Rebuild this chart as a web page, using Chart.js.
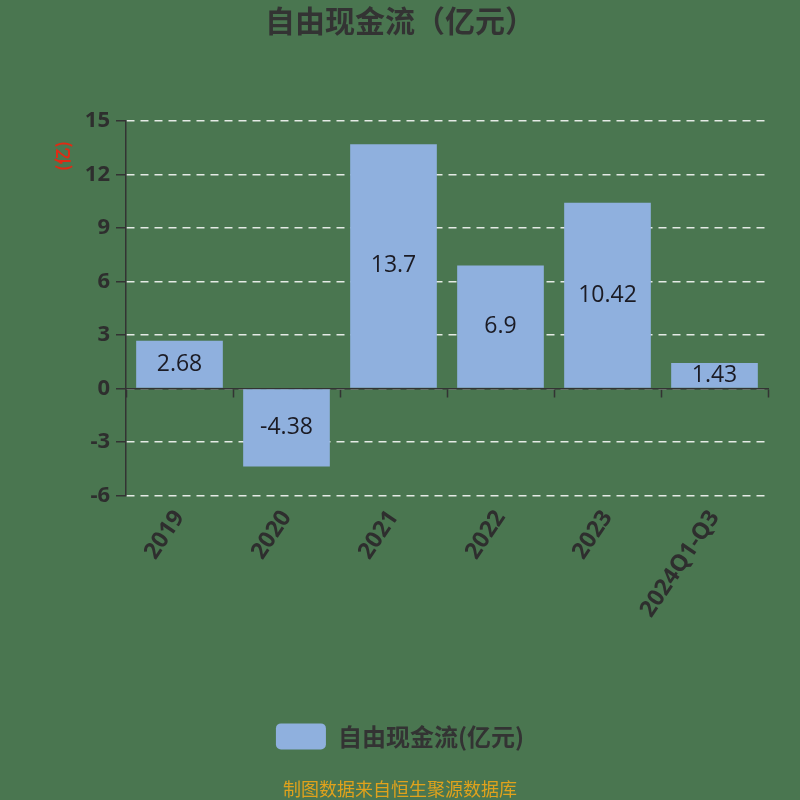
<!DOCTYPE html>
<html>
<head>
<meta charset="utf-8">
<script src="https://cdn.jsdelivr.net/npm/chart.js@4"></script>
<style>
  html, body { margin: 0; padding: 0; background: #4a7650; }
  #wrap { width: 800px; height: 800px; }
</style>
</head>
<body>
<div id="wrap"><canvas id="fcf" width="800" height="800"></canvas></div>
<script>
// data
const years = ['2019', '2020', '2021', '2022', '2023', '2024Q1-Q3'];
const freeCashFlow = [2.68, -4.38, 13.7, 6.9, 10.42, 1.43];
const yTicks = [-6, -3, 0, 3, 6, 9, 12, 15];

const cjk = '"Noto Sans CJK SC", "Noto Sans", sans-serif';

// green page background
const bgPlugin = {
    id: 'bg',
    beforeDraw(chart) {
        const ctx = chart.ctx;
        ctx.save();
        ctx.fillStyle = '#4a7650';
        ctx.fillRect(0, 0, chart.width, chart.height);
        ctx.restore();
    }
};

// value printed in the middle of each bar, plus the red unit label
const labelPlugin = {
    id: 'barLabels',
    afterDatasetsDraw(chart) {
        const ctx = chart.ctx;
        const meta = chart.getDatasetMeta(0);
        ctx.save();
        ctx.font = '23px "Open Sans", "Noto Sans", sans-serif';
        ctx.fillStyle = '#1b1b24';
        ctx.textAlign = 'center';
        ctx.textBaseline = 'middle';
        meta.data.forEach((bar, i) => {
            const c = bar.getCenterPoint();
            ctx.fillText(String(freeCashFlow[i]), c.x, c.y);
        });
        ctx.restore();
    },
    afterDraw(chart) {
        const ctx = chart.ctx;
        ctx.save();
        ctx.translate(63, 156);
        ctx.rotate(-Math.PI / 2);
        ctx.font = 'bold 17px ' + cjk;
        ctx.fillStyle = '#e02a14';
        ctx.textAlign = 'center';
        ctx.textBaseline = 'middle';
        ctx.fillText('(亿)', 0, 0);
        ctx.restore();
    }
};

new Chart('fcf', {
    type: 'bar',
    data: {
        labels: years,
        datasets: [{
            label: '自由现金流(亿元)',
            data: freeCashFlow,
            backgroundColor: '#8fb0de',
            barPercentage: 0.9,
            categoryPercentage: 0.9,
            xAxisID: 'x',
            yAxisID: 'y'
        }]
    },
    options: {
        responsive: false,
        animation: false,
        devicePixelRatio: 1,
        layout: { padding: 0 },
        plugins: {
            title: {
                display: true,
                text: '自由现金流（亿元）',
                color: '#333333',
                font: { family: cjk, size: 30, weight: 'bold' },
                padding: { top: 3, bottom: 82 }
            },
            subtitle: {
                display: true,
                position: 'bottom',
                text: '制图数据来自恒生聚源数据库',
                color: '#e0a21c',
                font: { family: cjk, size: 18 },
                padding: { top: 19, bottom: 0 }
            },
            legend: {
                position: 'bottom',
                labels: {
                    boxWidth: 50,
                    boxHeight: 26,
                    useBorderRadius: true,
                    borderRadius: 5,
                    color: '#333333',
                    padding: 10,
                    font: { family: cjk, size: 24, weight: 'bold' }
                }
            },
            tooltip: { enabled: false }
        },
        scales: {
            // axis line at zero with boundary ticks
            x: {
                type: 'category',
                position: { y: 0 },
                grid: {
                    offset: true,
                    drawOnChartArea: false,
                    tickLength: 8,
                    tickColor: '#333333',
                    tickWidth: 1.5
                },
                border: { display: true, color: '#333333', width: 1.5 },
                ticks: { display: false }
            },
            // category labels under the plot
            xl: {
                type: 'category',
                position: 'bottom',
                labels: years,
                offset: true,
                grid: { display: false },
                border: { display: false },
                ticks: {
                    color: '#2e2e2e',
                    font: { family: '"Noto Sans", sans-serif', size: 23, weight: 'bold' },
                    minRotation: 56,
                    maxRotation: 56,
                    padding: 2
                },
                afterFit(scale) { scale.height = 218; }
            },
            y: {
                min: -6,
                max: 15,
                afterBuildTicks(scale) { scale.ticks = yTicks.map(v => ({ value: v })); },
                grid: {
                    color: 'rgba(255,255,255,0.85)',
                    lineWidth: 1.5,
                    tickLength: 10,
                    tickColor: '#333333',
                    tickBorderDash: [],
                    tickWidth: 1.5
                },
                border: { display: true, color: '#333333', width: 1.5, dash: [8, 6] },
                ticks: {
                    color: '#2e2e2e',
                    font: { family: '"Noto Sans", sans-serif', size: 22, weight: 'bold' },
                    padding: 6
                },
                afterFit(scale) { scale.width = 126; }
            },
            // empty strip on the right so legend and title stay centred on the page
            yr: {
                position: 'right',
                min: -6,
                max: 15,
                grid: { display: false },
                border: { display: false },
                ticks: { display: false },
                afterFit(scale) { scale.width = 32; }
            }
        }
    },
    plugins: [bgPlugin, labelPlugin]
});
</script>
</body>
</html>
